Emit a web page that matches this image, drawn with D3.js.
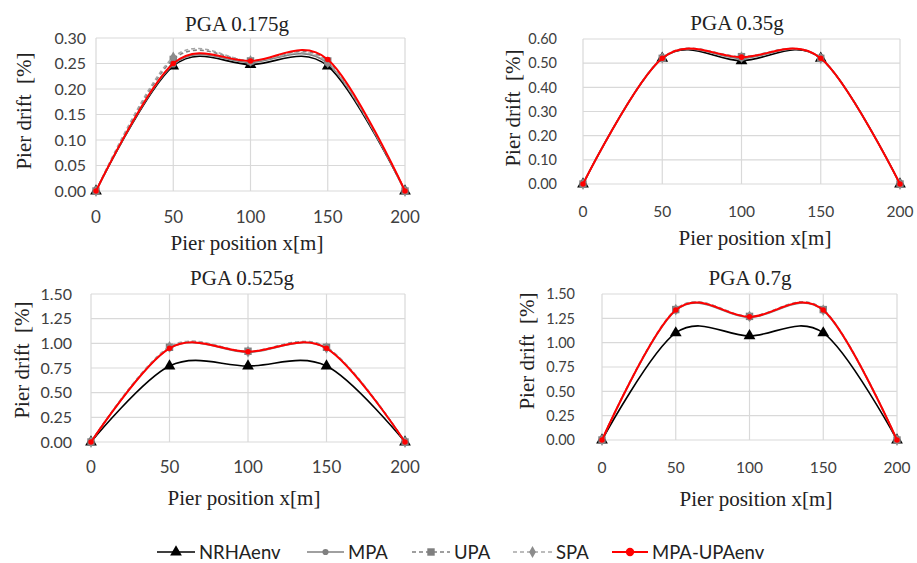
<!DOCTYPE html>
<html><head><meta charset="utf-8">
<script src="https://cdn.jsdelivr.net/npm/d3@7"></script>
<style>body{margin:0;background:#fff;overflow:hidden}</style></head>
<body>
<svg id="c" width="917" height="563"></svg>
<script>
// ---------- data ----------
const xPositions = [0, 50, 100, 150, 200];
const xTicks = [0, 50, 100, 150, 200];
const panelTitles = ["PGA 0.175g", "PGA 0.35g", "PGA 0.525g", "PGA 0.7g"];
const yMaxes = [0.30, 0.60, 1.50, 1.50];
const ySteps = [0.05, 0.10, 0.25, 0.25];
const seriesNames = ["NRHAenv", "MPA", "UPA", "SPA", "MPA-UPAenv"];
const xTitle = "Pier position x[m]";
const yTitle = "Pier drift  [%]";

const NRHAenv = [
  [0, 0.245, 0.248, 0.245, 0],
  [0, 0.52, 0.51, 0.52, 0],
  [0, 0.77, 0.77, 0.77, 0],
  [0, 1.10, 1.07, 1.10, 0]
];
const MPA = [
  [0, 0.248, 0.252, 0.250, 0],
  [0, 0.52, 0.52, 0.52, 0],
  [0, 0.95, 0.91, 0.95, 0],
  [0, 1.33, 1.26, 1.33, 0]
];
const UPA = [
  [0, 0.258, 0.255, 0.255, 0],
  [0, 0.52, 0.527, 0.52, 0],
  [0, 0.96, 0.92, 0.96, 0],
  [0, 1.34, 1.27, 1.34, 0]
];
const SPA = [
  [0, 0.262, 0.255, 0.252, 0],
  [0, 0.522, 0.525, 0.52, 0],
  [0, 0.965, 0.915, 0.955, 0],
  [0, 1.34, 1.27, 1.335, 0]
];
const MPA_UPAenv = [
  [0, 0.250, 0.255, 0.258, 0],
  [0, 0.52, 0.525, 0.52, 0],
  [0, 0.95, 0.915, 0.95, 0],
  [0, 1.335, 1.265, 1.335, 0]
];

// ---------- styles / layout ----------
const seriesData = [NRHAenv, MPA, UPA, SPA, MPA_UPAenv];
const styles = [
  {color: "#000000", width: 1.6, dash: null, marker: "triangle", msize: 60, mcolor: "#000"},
  {color: "#808080", width: 1.6, dash: null, marker: "circle", msize: 30, mcolor: "#808080"},
  {color: "#808080", width: 1.6, dash: "4,3", marker: "square", msize: 55, mcolor: "#7f7f7f"},
  {color: "#a6a6a6", width: 1.6, dash: "4,3", marker: "diamond", msize: 40, mcolor: "#8c8c8c"},
  {color: "#ff0000", width: 2, dash: null, marker: "circle", msize: 24, mcolor: "#ff0000"}
];
const symbolOf = {triangle: d3.symbolTriangle, circle: d3.symbolCircle, square: d3.symbolSquare, diamond: d3.symbolDiamond};

const panels = [
  {x0: 96,  x1: 405, yT: 38,  yB: 191, titleX: 237, titleY: 31,  xtY: 223, xTitleX: 247, xTitleY: 250, ytGap: 10, yTitleX: 24,  yTitleY: 111, tickFs: 16},
  {x0: 583, x1: 900, yT: 39,  yB: 184, titleX: 737, titleY: 30,  xtY: 217, xTitleX: 755, xTitleY: 245, ytGap: 26, yTitleX: 513, yTitleY: 108, tickFs: 14.5},
  {x0: 91,  x1: 405, yT: 294, yB: 442, titleX: 242, titleY: 285, xtY: 473, xTitleX: 244, xTitleY: 505, ytGap: 19, yTitleX: 22,  yTitleY: 360, tickFs: 16},
  {x0: 602, x1: 897, yT: 294, yB: 440, titleX: 750, titleY: 285, xtY: 473, xTitleX: 756, xTitleY: 506, ytGap: 27, yTitleX: 527, yTitleY: 351, tickFs: 14.5}
];

const svg = d3.select("#c");
const serif = "'Liberation Serif','Times New Roman',serif";
const sans = "Lato,'Open Sans',sans-serif";
const fmt = d3.format(".2f");

panels.forEach((p, i) => {
  const x = d3.scaleLinear().domain([0, 200]).range([p.x0, p.x1]);
  const y = d3.scaleLinear().domain([0, yMaxes[i]]).range([p.yB, p.yT]);
  const yTicks = d3.range(0, yMaxes[i] + ySteps[i] / 2, ySteps[i]);
  const g = svg.append("g");

  // grid
  g.selectAll(".hg").data(yTicks).join("line")
    .attr("x1", p.x0).attr("x2", p.x1)
    .attr("y1", d => y(d)).attr("y2", d => y(d))
    .attr("stroke", "#d9d9d9").attr("stroke-width", 1.2);
  g.selectAll(".vg").data(xTicks).join("line")
    .attr("x1", d => x(d)).attr("x2", d => x(d))
    .attr("y1", p.yT).attr("y2", p.yB)
    .attr("stroke", "#d9d9d9").attr("stroke-width", 1.2);

  // tick labels
  g.selectAll(".yl").data(yTicks).join("text")
    .attr("x", p.x0 - p.ytGap).attr("y", d => y(d))
    .attr("dy", "0.36em").attr("text-anchor", "end")
    .attr("font-family", sans).attr("font-size", p.tickFs).attr("fill", "#404040")
    .text(d => fmt(d));
  g.selectAll(".xl").data(xTicks).join("text")
    .attr("x", d => x(d)).attr("y", p.xtY)
    .attr("text-anchor", "middle")
    .attr("font-family", sans).attr("font-size", p.tickFs + 1).attr("fill", "#404040")
    .text(d => d);

  // titles
  g.append("text").attr("x", p.titleX).attr("y", p.titleY).attr("text-anchor", "middle")
    .attr("font-family", serif).attr("font-size", 21).attr("fill", "#222").text(panelTitles[i]);
  g.append("text").attr("x", p.xTitleX).attr("y", p.xTitleY).attr("text-anchor", "middle")
    .attr("font-family", serif).attr("font-size", 21).attr("fill", "#222").text(xTitle);
  g.append("text")
    .attr("transform", `translate(${p.yTitleX},${p.yTitleY}) rotate(-90)`)
    .attr("text-anchor", "middle").attr("dy", "0.35em")
    .attr("font-family", serif).attr("font-size", 21).attr("fill", "#222")
    .attr("xml:space", "preserve").style("white-space", "pre")
    .text(yTitle);

  // series
  const line = d3.line().x((d, k) => x(xPositions[k])).y(d => y(d)).curve(d3.curveCardinal.tension(0));
  seriesData.forEach((sd, s) => {
    const st = styles[s];
    const vals = sd[i];
    g.append("path").datum(vals).attr("d", line)
      .attr("fill", "none").attr("stroke", st.color).attr("stroke-width", st.width)
      .attr("stroke-dasharray", st.dash);
    g.selectAll(null).data(vals).join("path")
      .attr("transform", (d, k) => `translate(${x(xPositions[k])},${y(d)})`)
      .attr("d", d3.symbol().type(symbolOf[st.marker]).size(st.msize))
      .attr("fill", st.mcolor);
  });
});

// legend
const legendX = [157, 307, 412, 513, 612];
const legendLineW = [38, 37, 38, 39, 36];
const legendY = 552;
seriesNames.forEach((name, s) => {
  const st = styles[s];
  const lx = legendX[s], w = legendLineW[s];
  svg.append("line").attr("x1", lx).attr("x2", lx + w).attr("y1", legendY).attr("y2", legendY)
    .attr("stroke", st.color).attr("stroke-width", st.width).attr("stroke-dasharray", st.dash);
  svg.append("path").attr("transform", `translate(${lx + w / 2},${legendY})`)
    .attr("d", d3.symbol().type(symbolOf[st.marker]).size(s === 4 ? 55 : st.msize))
    .attr("fill", st.mcolor);
  svg.append("text").attr("x", lx + w + 4).attr("y", legendY).attr("dy", "0.36em")
    .attr("font-family", sans).attr("font-size", 18.5).attr("fill", "#222").text(name);
});
</script>
</body></html>
